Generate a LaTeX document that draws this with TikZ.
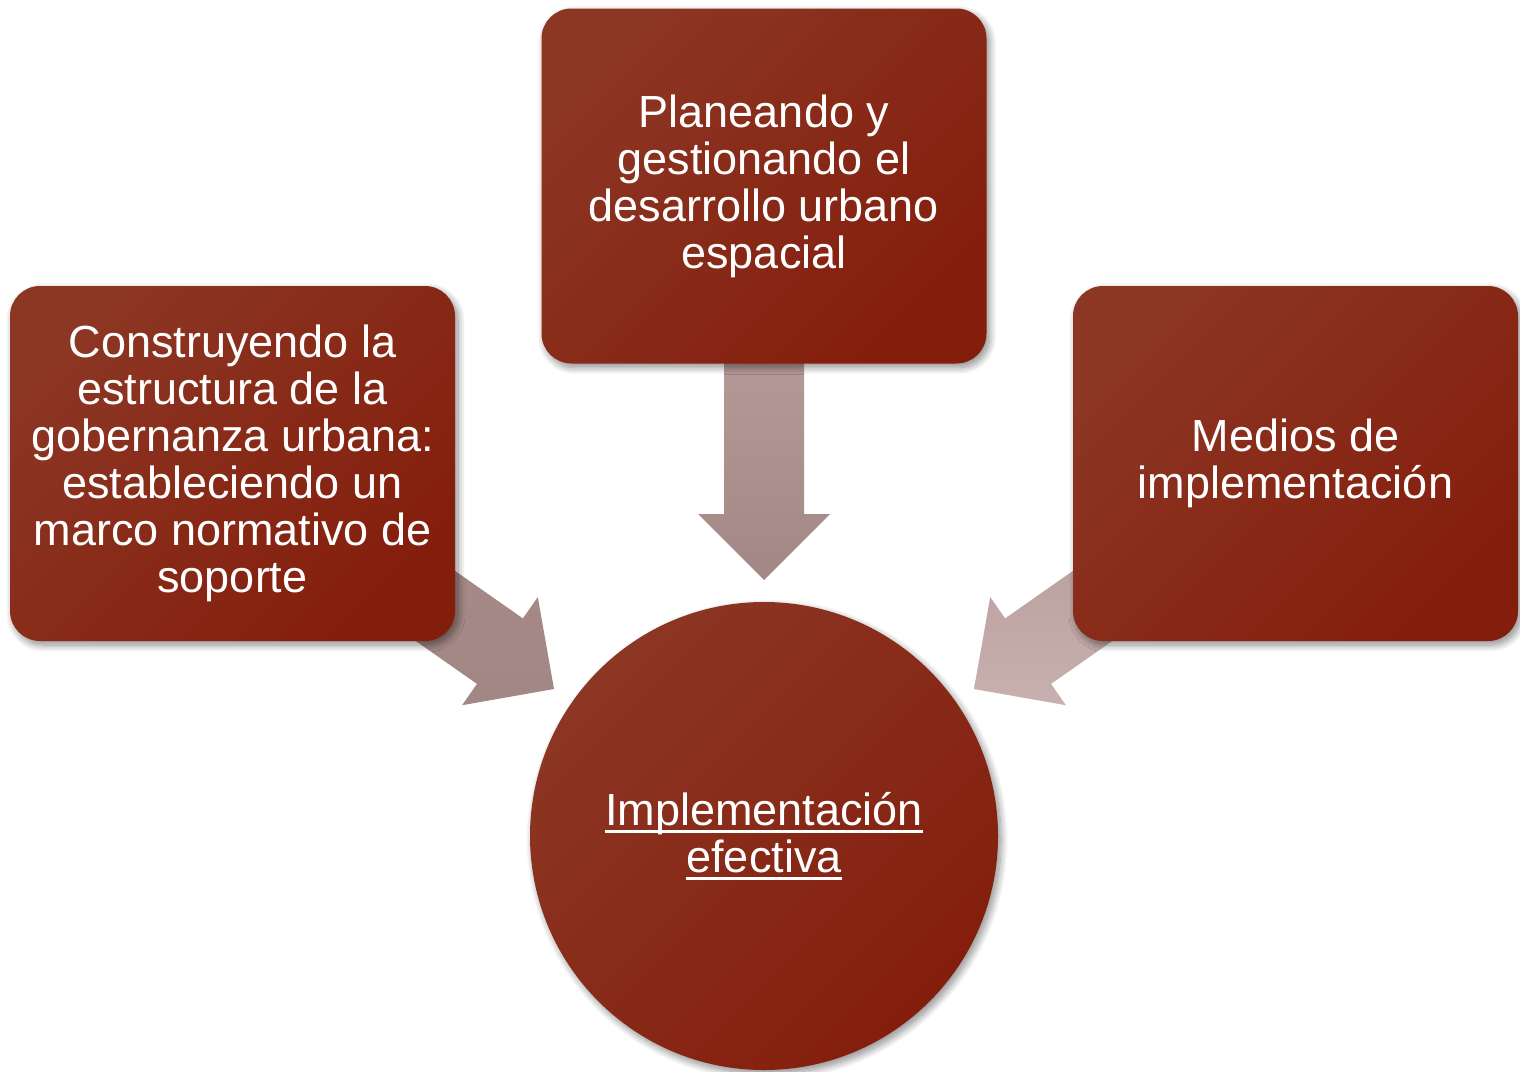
\documentclass[tikz,border=0pt]{standalone}
\usepackage{fontspec}
\setmainfont{Liberation Sans}
\usetikzlibrary{shadows.blur}
\definecolor{bxA}{RGB}{140,54,36}
\definecolor{bxB}{RGB}{152,38,18}
\definecolor{bxC}{RGB}{132,30,12}
\definecolor{arA}{RGB}{182,154,152}
\definecolor{arB}{RGB}{163,135,132}
\definecolor{arC}{RGB}{200,176,174}
\definecolor{arD}{RGB}{184,158,156}
\newcommand\uln[1]{\setbox0=\hbox{#1}\leavevmode\rlap{\rule[-7pt]{\wd0}{2.5pt}}\box0}
\tikzset{
  bshadow/.style={blur shadow={shadow xshift=3pt, shadow yshift=-4pt, shadow blur radius=7pt, shadow blur steps=12, shadow opacity=45}},
  redfill/.style={top color=bxA, middle color=bxB, bottom color=bxC, shading angle=45},
  box/.style={rounded corners=30pt, minimum width=445pt, minimum height=355pt, inner sep=0pt,
    redfill, bshadow, text=white, align=center, font=\fontsize{45}{47}\selectfont},
  roundbox/.style={circle, minimum size=468pt, inner sep=0pt,
    redfill, bshadow, text=white, align=center, font=\fontsize{45}{47}\selectfont},
  blockarr/.pic={\path[pic actions] (0,0) -- (-66pt,66pt) -- (-66pt,40pt) -- (-232pt,40pt)
      -- (-232pt,-40pt) -- (-66pt,-40pt) -- (-66pt,-66pt) -- cycle;},
  arrshadow/.style={blur shadow={shadow xshift=3pt, shadow yshift=-3pt, shadow blur radius=4pt, shadow blur steps=8, shadow opacity=35}},
}
\begin{document}
\begin{tikzpicture}[x=1pt,y=-1pt]
\useasboundingbox (0,0) rectangle (1520,1071);
% arrow tips
\coordinate (tipTop) at (764,580);
\coordinate (tipLeft) at (554,689);
\coordinate (tipRight) at (974,689);
% block arrows
\pic[rotate=-90, top color=arA, bottom color=arB, arrshadow] at (tipTop) {blockarr};
\pic[rotate=-35, top color=arB!85!arA, bottom color=arB, arrshadow] at (tipLeft) {blockarr};
\pic[rotate=-145, top color=arD, bottom color=arC, arrshadow] at (tipRight) {blockarr};
% boxes
\node[box] (plan) at (764,186) {Planeando y\\gestionando el\\desarrollo urbano\\espacial};
\node[box] (gob) at (232.5,463.5) {Construyendo la\\estructura de la\\gobernanza urbana:\\estableciendo un\\marco normativo de\\soporte};
\node[box] (medios) at (1295.5,463.5) {Medios de\\implementación};
\node[roundbox] (impl) at (764,836) {\uln{Implementación}\\\uln{efectiva}};
\end{tikzpicture}
\end{document}
